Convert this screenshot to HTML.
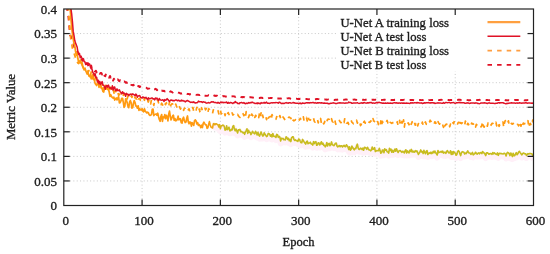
<!DOCTYPE html><html><head><meta charset="utf-8"><style>html,body{margin:0;padding:0;background:#fff;overflow:hidden}svg{display:block;will-change:transform}</style></head><body><svg width="550" height="254" viewBox="0 0 550 254">
<rect width="550" height="254" fill="#fff"/>
<g stroke="#c8c8c8" stroke-width="1" stroke-dasharray="1 2.353" fill="none"><line x1="63.3" y1="180.94" x2="533.5" y2="180.94"/><line x1="63.3" y1="156.38" x2="533.5" y2="156.38"/><line x1="63.3" y1="131.81" x2="533.5" y2="131.81"/><line x1="63.3" y1="107.25" x2="533.5" y2="107.25"/><line x1="63.3" y1="82.69" x2="533.5" y2="82.69"/><line x1="63.3" y1="58.12" x2="533.5" y2="58.12"/><line x1="63.3" y1="33.56" x2="533.5" y2="33.56"/><line x1="142.08" y1="205.7" x2="142.08" y2="9.0"/><line x1="220.37" y1="205.7" x2="220.37" y2="9.0"/><line x1="298.65" y1="205.7" x2="298.65" y2="9.0"/><line x1="376.93" y1="205.7" x2="376.93" y2="9.0"/><line x1="455.22" y1="205.7" x2="455.22" y2="9.0"/></g>
<linearGradient id="og" gradientUnits="userSpaceOnUse" x1="207" y1="0" x2="226" y2="0"><stop offset="0" stop-color="#ff9a10"/><stop offset="1" stop-color="#c8bc1e"/></linearGradient>
<clipPath id="c"><rect x="63.8" y="9.0" width="469.7" height="196.5"/></clipPath>
<g clip-path="url(#c)" fill="none" stroke-linejoin="round">
<path d="M214.10,123.54 L214.89,124.85 L215.67,123.71 L216.45,123.82 L217.24,124.45 L218.02,124.83 L218.80,126.94 L219.58,124.64 L220.37,128.77 L221.15,126.00 L221.93,125.76 L222.72,125.14 L223.50,125.23 L224.28,126.66 L225.06,130.13 L225.85,129.77 L226.63,125.80 L227.41,129.60 L228.19,128.66 L228.98,127.25 L229.76,130.75 L230.54,130.77 L231.33,129.25 L232.11,129.93 L232.89,126.38 L233.67,125.57 L234.46,129.35 L235.24,130.81 L236.02,128.95 L236.81,130.92 L237.59,132.96 L238.37,129.86 L239.15,129.99 L239.94,129.43 L240.72,131.80 L241.50,131.50 L242.29,132.08 L243.07,132.96 L243.85,132.36 L244.63,134.32 L245.42,131.92 L246.20,130.67 L246.98,128.83 L247.77,133.34 L248.55,130.34 L249.33,132.31 L250.11,132.31 L250.90,134.59 L251.68,133.42 L252.46,131.25 L253.25,132.51 L254.03,133.29 L254.81,133.86 L255.59,131.33 L256.38,132.77 L257.16,134.98 L257.94,132.35 L258.73,134.98 L259.51,136.14 L260.29,134.06 L261.07,131.95 L261.86,134.14 L262.64,135.97 L263.42,135.67 L264.21,132.80 L264.99,134.29 L265.77,135.41 L266.55,136.58 L267.34,136.09 L268.12,133.66 L268.90,133.51 L269.69,134.25 L270.47,136.24 L271.25,134.77 L272.03,136.88 L272.82,133.53 L273.60,136.29 L274.38,136.52 L275.17,136.25 L275.95,137.48 L276.73,134.38 L277.51,134.78 L278.30,137.37 L279.08,136.40 L279.86,137.13 L280.64,141.00 L281.43,138.32 L282.21,138.73 L282.99,138.41 L283.78,139.77 L284.56,139.57 L285.34,139.86 L286.12,136.74 L286.91,137.58 L287.69,139.34 L288.47,138.31 L289.26,140.70 L290.04,139.47 L290.82,141.58 L291.60,137.86 L292.39,136.90 L293.17,136.73 L293.95,139.46 L294.74,140.40 L295.52,139.94 L296.30,140.70 L297.08,140.81 L297.87,141.48 L298.65,139.09 L299.43,139.43 L300.22,141.27 L301.00,142.74 L301.78,142.79 L302.56,139.41 L303.35,140.58 L304.13,141.93 L304.91,143.03 L305.70,144.04 L306.48,141.91 L307.26,141.09 L308.04,143.72 L308.83,143.03 L309.61,143.04 L310.39,142.22 L311.18,144.03 L311.96,144.00 L312.74,145.06 L313.52,141.68 L314.31,143.56 L315.09,141.92 L315.87,141.68 L316.66,145.22 L317.44,145.03 L318.22,142.82 L319.00,143.07 L319.79,144.97 L320.57,143.37 L321.35,141.73 L322.13,144.15 L322.92,143.18 L323.70,145.34 L324.48,145.22 L325.27,146.82 L326.05,145.58 L326.83,142.56 L327.61,146.06 L328.40,143.83 L329.18,143.35 L329.96,145.66 L330.75,144.80 L331.53,141.90 L332.31,144.66 L333.09,145.02 L333.88,145.62 L334.66,144.74 L335.44,143.24 L336.23,143.13 L337.01,146.06 L337.79,146.81 L338.57,146.11 L339.36,145.52 L340.14,146.76 L340.92,145.74 L341.71,145.72 L342.49,147.01 L343.27,146.06 L344.05,145.31 L344.84,146.51 L345.62,146.65 L346.40,144.77 L347.19,145.92 L347.97,147.02 L348.75,149.45 L349.53,146.83 L350.32,150.19 L351.10,149.21 L351.88,146.08 L352.67,147.53 L353.45,148.78 L354.23,149.88 L355.01,148.45 L355.80,148.68 L356.58,145.91 L357.36,144.15 L358.15,148.02 L358.93,149.34 L359.71,149.37 L360.49,148.19 L361.28,148.51 L362.06,149.61 L362.84,148.18 L363.63,150.21 L364.41,147.35 L365.19,147.46 L365.97,148.08 L366.76,149.34 L367.54,147.29 L368.32,148.85 L369.11,150.03 L369.89,149.95 L370.67,150.79 L371.45,149.97 L372.24,147.08 L373.02,149.33 L373.80,148.92 L374.58,147.69 L375.37,151.52 L376.15,150.97 L376.93,150.51 L377.72,150.72 L378.50,150.78 L379.28,148.38 L380.06,150.48 L380.85,153.18 L381.63,152.68 L382.41,150.09 L383.20,150.12 L383.98,152.65 L384.76,148.79 L385.54,150.22 L386.33,149.69 L387.11,151.76 L387.89,151.98 L388.68,153.10 L389.46,148.39 L390.24,150.40 L391.02,149.16 L391.81,152.25 L392.59,150.32 L393.37,152.22 L394.16,150.97 L394.94,149.06 L395.72,151.24 L396.50,148.81 L397.29,150.79 L398.07,152.52 L398.85,150.97 L399.64,150.66 L400.42,150.61 L401.20,151.74 L401.98,152.36 L402.77,151.22 L403.55,152.06 L404.33,152.88 L405.12,150.81 L405.90,149.80 L406.68,153.02 L407.46,150.95 L408.25,152.14 L409.03,152.88 L409.81,150.34 L410.60,151.53 L411.38,149.38 L412.16,152.06 L412.94,151.11 L413.73,152.08 L414.51,152.12 L415.29,150.66 L416.07,151.60 L416.86,150.81 L417.64,152.53 L418.42,154.47 L419.21,153.11 L419.99,151.94 L420.77,149.94 L421.55,151.94 L422.34,151.51 L423.12,153.57 L423.90,150.40 L424.69,152.45 L425.47,153.71 L426.25,151.31 L427.03,150.63 L427.82,154.47 L428.60,153.46 L429.38,152.77 L430.17,153.51 L430.95,152.17 L431.73,153.59 L432.51,152.93 L433.30,151.27 L434.08,152.79 L434.86,151.02 L435.65,152.78 L436.43,153.83 L437.21,155.02 L437.99,150.45 L438.78,152.58 L439.56,152.33 L440.34,152.07 L441.13,151.31 L441.91,152.29 L442.69,151.06 L443.47,153.08 L444.26,152.54 L445.04,152.25 L445.82,153.36 L446.61,151.47 L447.39,150.64 L448.17,152.02 L448.95,153.04 L449.74,152.79 L450.52,150.86 L451.30,154.46 L452.09,151.82 L452.87,154.33 L453.65,151.45 L454.43,152.76 L455.22,153.06 L456.00,155.30 L456.78,154.69 L457.57,151.66 L458.35,150.67 L459.13,151.57 L459.91,153.85 L460.70,155.61 L461.48,152.64 L462.26,151.64 L463.05,151.89 L463.83,152.29 L464.61,154.00 L465.39,153.12 L466.18,153.59 L466.96,152.06 L467.74,150.85 L468.52,152.76 L469.31,153.03 L470.09,153.09 L470.87,154.45 L471.66,153.65 L472.44,152.45 L473.22,154.85 L474.00,154.16 L474.79,153.70 L475.57,152.25 L476.35,153.44 L477.14,154.10 L477.92,153.38 L478.70,152.85 L479.48,153.82 L480.27,152.83 L481.05,152.61 L481.83,153.53 L482.62,151.56 L483.40,152.74 L484.18,152.99 L484.96,154.05 L485.75,155.54 L486.53,152.71 L487.31,152.76 L488.10,153.34 L488.88,154.25 L489.66,153.81 L490.44,153.54 L491.23,153.68 L492.01,154.33 L492.79,152.56 L493.58,153.81 L494.36,152.86 L495.14,153.52 L495.92,154.31 L496.71,154.55 L497.49,152.92 L498.27,155.35 L499.06,153.62 L499.84,153.34 L500.62,153.58 L501.40,153.57 L502.19,153.81 L502.97,153.98 L503.75,153.49 L504.54,153.20 L505.32,153.96 L506.10,156.02 L506.88,153.24 L507.67,152.41 L508.45,152.87 L509.23,153.82 L510.01,155.57 L510.80,152.95 L511.58,154.64 L512.36,156.56 L513.15,153.19 L513.93,155.73 L514.71,155.59 L515.49,154.02 L516.28,152.59 L517.06,154.70 L517.84,153.78 L518.63,152.13 L519.41,151.29 L520.19,152.62 L520.97,153.69 L521.76,154.91 L522.54,153.87 L523.32,153.00 L524.11,153.34 L524.89,153.88 L525.67,153.74 L526.45,155.43 L527.24,154.40 L528.02,153.61 L528.80,153.97 L529.59,153.58 L530.37,153.44 L531.15,153.80 L531.93,153.72 L532.72,155.68 L533.50,156.16" stroke="#fff0f8" stroke-width="6" transform="translate(0,2.5)"/>
<path d="M63.80,-22.29 L64.58,-13.81 L65.37,-6.73 L66.15,-2.45 L66.93,7.33 L67.71,12.59 L68.50,17.67 L69.28,26.35 L70.06,35.30 L70.85,36.12 L71.63,40.92 L72.41,42.32 L73.19,42.85 L73.98,45.83 L74.76,48.76 L75.54,48.08 L76.33,49.49 L77.11,51.02 L77.89,52.54 L78.67,54.76 L79.46,57.38 L80.24,58.44 L81.02,58.40 L81.81,59.97 L82.59,60.87 L83.37,58.72 L84.15,61.40 L84.94,61.88 L85.72,62.63 L86.50,63.18 L87.28,64.25 L88.07,65.26 L88.85,66.93 L89.63,65.26 L90.42,66.99 L91.20,65.50 L91.98,69.46 L92.76,69.74 L93.55,68.68 L94.33,70.54 L95.11,71.56 L95.90,70.73 L96.68,72.39 L97.46,71.67 L98.24,74.32 L99.03,73.24 L99.81,73.86 L100.59,73.01 L101.38,72.88 L102.16,74.55 L102.94,72.37 L103.72,74.47 L104.51,75.88 L105.29,76.24 L106.07,73.34 L106.86,75.34 L107.64,76.42 L108.42,77.05 L109.20,77.74 L109.99,75.97 L110.77,77.56 L111.55,76.33 L112.34,78.50 L113.12,80.69 L113.90,78.63 L114.68,79.92 L115.47,79.93 L116.25,78.57 L117.03,80.21 L117.82,79.38 L118.60,80.57 L119.38,81.24 L120.16,80.18 L120.95,81.04 L121.73,79.94 L122.51,80.57 L123.30,81.58 L124.08,81.39 L124.86,81.70 L125.64,82.74 L126.43,82.20 L127.21,83.08 L127.99,82.41 L128.78,83.47 L129.56,83.02 L130.34,83.41 L131.12,84.83 L131.91,84.97 L132.69,85.35 L133.47,84.79 L134.25,85.94 L135.04,85.31 L135.82,84.66 L136.60,85.47 L137.39,86.94 L138.17,86.23 L138.95,86.02 L139.73,87.11 L140.52,86.51 L141.30,86.98 L142.08,87.22 L142.87,87.64 L143.65,87.72 L144.43,87.56 L145.21,87.55 L146.00,87.60 L146.78,88.01 L147.56,88.68 L148.35,88.63 L149.13,88.53 L149.91,89.63 L150.69,89.26 L151.48,89.31 L152.26,88.99 L153.04,88.94 L153.83,88.94 L154.61,89.36 L155.39,88.80 L156.17,89.17 L156.96,90.24 L157.74,89.65 L158.52,90.23 L159.31,89.06 L160.09,90.13 L160.87,90.34 L161.65,90.45 L162.44,90.86 L163.22,91.06 L164.00,90.67 L164.79,91.44 L165.57,91.41 L166.35,91.38 L167.13,92.07 L167.92,90.93 L168.70,91.12 L169.48,90.95 L170.27,91.70 L171.05,91.45 L171.83,91.96 L172.61,92.59 L173.40,91.94 L174.18,92.55 L174.96,92.80 L175.75,92.64 L176.53,92.41 L177.31,92.37 L178.09,92.65 L178.88,92.68 L179.66,92.84 L180.44,93.66 L181.22,93.48 L182.01,93.54 L182.79,93.25 L183.57,92.97 L184.36,93.29 L185.14,93.85 L185.92,93.77 L186.70,93.55 L187.49,94.04 L188.27,94.05 L189.05,94.05 L189.84,94.61 L190.62,94.01 L191.40,94.15 L192.18,94.18 L192.97,94.62 L193.75,94.64 L194.53,94.68 L195.32,94.58 L196.10,94.76 L196.88,94.89 L197.66,94.62 L198.45,94.73 L199.23,95.12 L200.01,95.07 L200.80,94.60 L201.58,95.21 L202.36,95.03 L203.14,95.15 L203.93,95.75 L204.71,95.78 L205.49,95.73 L206.28,95.87 L207.06,95.81 L207.84,95.58 L208.62,95.22 L209.41,95.47 L210.19,95.44 L210.97,95.51 L211.76,95.73 L212.54,95.19 L213.32,95.99 L214.10,95.70 L214.89,95.52 L215.67,96.01 L216.45,95.71 L217.24,95.69 L218.02,96.20 L218.80,96.09 L219.58,96.45 L220.37,96.20 L221.15,96.32 L221.93,96.29 L222.72,96.04 L223.50,96.23 L224.28,96.14 L225.06,96.35 L225.85,96.71 L226.63,96.38 L227.41,96.23 L228.19,96.51 L228.98,95.99 L229.76,96.28 L230.54,96.29 L231.33,96.55 L232.11,96.37 L232.89,96.31 L233.67,96.41 L234.46,96.38 L235.24,96.91 L236.02,96.45 L236.81,97.01 L237.59,97.29 L238.37,97.11 L239.15,97.09 L239.94,96.87 L240.72,97.17 L241.50,97.03 L242.29,97.31 L243.07,96.87 L243.85,97.23 L244.63,97.09 L245.42,97.67 L246.20,97.42 L246.98,97.60 L247.77,97.20 L248.55,97.04 L249.33,97.30 L250.11,97.21 L250.90,97.27 L251.68,97.43 L252.46,97.42 L253.25,97.57 L254.03,97.76 L254.81,97.64 L255.59,97.67 L256.38,98.06 L257.16,98.04 L257.94,97.99 L258.73,98.01 L259.51,98.03 L260.29,97.76 L261.07,97.72 L261.86,97.77 L262.64,97.98 L263.42,97.82 L264.21,98.08 L264.99,98.56 L265.77,98.59 L266.55,98.36 L267.34,98.50 L268.12,98.18 L268.90,98.12 L269.69,98.12 L270.47,97.96 L271.25,98.04 L272.03,97.84 L272.82,98.04 L273.60,97.62 L274.38,97.89 L275.17,98.13 L275.95,98.45 L276.73,98.48 L277.51,98.45 L278.30,98.43 L279.08,98.38 L279.86,98.59 L280.64,98.47 L281.43,98.67 L282.21,98.80 L282.99,98.86 L283.78,98.77 L284.56,98.79 L285.34,99.05 L286.12,98.55 L286.91,98.35 L287.69,98.36 L288.47,98.28 L289.26,98.32 L290.04,98.40 L290.82,98.78 L291.60,99.06 L292.39,99.00 L293.17,99.21 L293.95,98.84 L294.74,98.59 L295.52,98.62 L296.30,98.66 L297.08,98.86 L297.87,98.95 L298.65,98.98 L299.43,98.95 L300.22,98.79 L301.00,98.77 L301.78,98.73 L302.56,98.84 L303.35,99.08 L304.13,99.24 L304.91,99.22 L305.70,99.13 L306.48,98.97 L307.26,99.11 L308.04,99.23 L308.83,99.37 L309.61,99.23 L310.39,99.28 L311.18,99.31 L311.96,99.32 L312.74,99.24 L313.52,99.47 L314.31,99.28 L315.09,99.24 L315.87,99.22 L316.66,99.00 L317.44,99.03 L318.22,99.11 L319.00,99.11 L319.79,99.21 L320.57,99.11 L321.35,99.18 L322.13,99.16 L322.92,99.18 L323.70,99.51 L324.48,99.35 L325.27,99.63 L326.05,99.53 L326.83,99.70 L327.61,99.66 L328.40,99.54 L329.18,99.82 L329.96,99.63 L330.75,99.65 L331.53,99.85 L332.31,99.69 L333.09,99.83 L333.88,99.93 L334.66,99.94 L335.44,99.61 L336.23,99.75 L337.01,99.76 L337.79,99.56 L338.57,99.44 L339.36,99.45 L340.14,99.51 L340.92,99.73 L341.71,99.70 L342.49,99.84 L343.27,99.89 L344.05,99.78 L344.84,99.67 L345.62,99.52 L346.40,99.55 L347.19,99.65 L347.97,99.63 L348.75,99.56 L349.53,99.36 L350.32,99.65 L351.10,99.66 L351.88,99.69 L352.67,99.77 L353.45,99.58 L354.23,99.55 L355.01,99.68 L355.80,99.74 L356.58,99.84 L357.36,99.88 L358.15,99.96 L358.93,99.82 L359.71,99.53 L360.49,99.72 L361.28,99.58 L362.06,99.57 L362.84,99.73 L363.63,99.77 L364.41,99.86 L365.19,99.80 L365.97,99.68 L366.76,99.74 L367.54,99.70 L368.32,99.79 L369.11,99.93 L369.89,99.95 L370.67,100.04 L371.45,99.84 L372.24,99.73 L373.02,99.70 L373.80,99.72 L374.58,99.87 L375.37,99.65 L376.15,99.89 L376.93,99.97 L377.72,99.95 L378.50,100.25 L379.28,100.08 L380.06,100.05 L380.85,100.00 L381.63,99.98 L382.41,99.83 L383.20,99.87 L383.98,99.75 L384.76,99.76 L385.54,100.01 L386.33,100.00 L387.11,100.03 L387.89,100.13 L388.68,100.12 L389.46,99.98 L390.24,99.94 L391.02,100.02 L391.81,99.94 L392.59,99.87 L393.37,100.02 L394.16,100.00 L394.94,99.78 L395.72,99.77 L396.50,99.97 L397.29,99.95 L398.07,99.87 L398.85,100.08 L399.64,100.07 L400.42,100.06 L401.20,99.89 L401.98,100.01 L402.77,99.97 L403.55,99.92 L404.33,99.80 L405.12,99.94 L405.90,100.12 L406.68,99.99 L407.46,99.97 L408.25,100.03 L409.03,100.04 L409.81,99.99 L410.60,99.92 L411.38,99.99 L412.16,99.96 L412.94,100.03 L413.73,100.15 L414.51,100.30 L415.29,100.29 L416.07,100.35 L416.86,100.31 L417.64,100.15 L418.42,100.10 L419.21,100.02 L419.99,100.19 L420.77,100.03 L421.55,100.09 L422.34,100.05 L423.12,99.97 L423.90,99.78 L424.69,99.89 L425.47,100.16 L426.25,100.32 L427.03,100.28 L427.82,100.27 L428.60,100.02 L429.38,100.15 L430.17,100.14 L430.95,100.01 L431.73,100.02 L432.51,100.05 L433.30,100.03 L434.08,99.95 L434.86,100.15 L435.65,100.20 L436.43,100.31 L437.21,100.18 L437.99,100.10 L438.78,100.10 L439.56,99.92 L440.34,99.93 L441.13,99.80 L441.91,99.90 L442.69,100.01 L443.47,100.01 L444.26,100.11 L445.04,100.14 L445.82,100.00 L446.61,99.95 L447.39,99.86 L448.17,99.99 L448.95,100.03 L449.74,100.13 L450.52,99.99 L451.30,100.01 L452.09,100.05 L452.87,99.93 L453.65,99.93 L454.43,100.10 L455.22,99.96 L456.00,99.99 L456.78,99.99 L457.57,99.95 L458.35,99.76 L459.13,99.76 L459.91,99.75 L460.70,99.94 L461.48,99.89 L462.26,99.78 L463.05,99.91 L463.83,99.90 L464.61,100.01 L465.39,99.83 L466.18,99.94 L466.96,100.05 L467.74,100.15 L468.52,100.23 L469.31,100.24 L470.09,100.13 L470.87,100.14 L471.66,99.96 L472.44,100.04 L473.22,100.06 L474.00,99.94 L474.79,100.05 L475.57,100.02 L476.35,100.07 L477.14,100.11 L477.92,99.87 L478.70,99.93 L479.48,99.81 L480.27,100.07 L481.05,100.17 L481.83,100.08 L482.62,100.05 L483.40,100.00 L484.18,100.02 L484.96,99.86 L485.75,99.98 L486.53,99.94 L487.31,100.03 L488.10,100.11 L488.88,100.11 L489.66,100.22 L490.44,100.14 L491.23,100.12 L492.01,100.27 L492.79,100.25 L493.58,100.19 L494.36,100.14 L495.14,100.01 L495.92,100.08 L496.71,99.91 L497.49,99.93 L498.27,100.00 L499.06,100.09 L499.84,100.05 L500.62,100.13 L501.40,100.10 L502.19,100.13 L502.97,100.06 L503.75,100.08 L504.54,99.96 L505.32,100.19 L506.10,100.18 L506.88,100.16 L507.67,100.33 L508.45,100.22 L509.23,100.28 L510.01,100.12 L510.80,100.10 L511.58,100.06 L512.36,100.07 L513.15,100.15 L513.93,100.19 L514.71,100.03 L515.49,100.07 L516.28,100.06 L517.06,99.96 L517.84,99.98 L518.63,99.96 L519.41,99.92 L520.19,100.04 L520.97,99.93 L521.76,99.98 L522.54,100.13 L523.32,100.21 L524.11,100.37 L524.89,100.27 L525.67,100.08 L526.45,100.20 L527.24,100.10 L528.02,100.05 L528.80,100.03 L529.59,99.98 L530.37,100.15 L531.15,100.04 L531.93,100.00 L532.72,100.12 L533.50,100.08" stroke="#e01226" stroke-width="1.9" stroke-dasharray="4.5 5.1"/>
<path d="M63.80,-22.35 L64.58,-14.78 L65.37,-9.75 L66.15,-4.19 L66.93,0.80 L67.71,4.82 L68.50,11.82 L69.28,22.91 L70.06,31.90 L70.85,40.04 L71.63,42.39 L72.41,48.95 L73.19,50.29 L73.98,53.03 L74.76,55.57 L75.54,58.07 L76.33,57.93 L77.11,61.74 L77.89,63.11 L78.67,63.62 L79.46,62.53 L80.24,64.33 L81.02,62.28 L81.81,64.38 L82.59,66.31 L83.37,67.98 L84.15,68.50 L84.94,68.48 L85.72,68.99 L86.50,70.32 L87.28,70.12 L88.07,71.93 L88.85,70.53 L89.63,72.77 L90.42,76.33 L91.20,71.83 L91.98,75.22 L92.76,78.88 L93.55,78.62 L94.33,80.35 L95.11,75.90 L95.90,78.68 L96.68,82.61 L97.46,80.29 L98.24,82.79 L99.03,79.84 L99.81,84.84 L100.59,86.85 L101.38,83.69 L102.16,85.22 L102.94,86.47 L103.72,90.08 L104.51,86.34 L105.29,84.33 L106.07,90.10 L106.86,85.87 L107.64,89.47 L108.42,85.74 L109.20,88.61 L109.99,89.39 L110.77,87.23 L111.55,88.40 L112.34,90.83 L113.12,89.65 L113.90,92.52 L114.68,95.36 L115.47,89.96 L116.25,94.01 L117.03,94.31 L117.82,92.44 L118.60,95.14 L119.38,94.83 L120.16,93.80 L120.95,94.34 L121.73,93.93 L122.51,92.61 L123.30,95.26 L124.08,93.91 L124.86,94.20 L125.64,97.71 L126.43,96.55 L127.21,98.90 L127.99,95.69 L128.78,96.16 L129.56,96.36 L130.34,98.23 L131.12,95.90 L131.91,97.44 L132.69,95.51 L133.47,97.39 L134.25,99.20 L135.04,97.16 L135.82,97.79 L136.60,99.81 L137.39,96.83 L138.17,98.86 L138.95,98.79 L139.73,98.39 L140.52,100.38 L141.30,100.55 L142.08,100.61 L142.87,98.07 L143.65,97.84 L144.43,100.27 L145.21,97.20 L146.00,100.16 L146.78,100.29 L147.56,100.43 L148.35,102.04 L149.13,99.24 L149.91,102.09 L150.69,103.88 L151.48,99.55 L152.26,102.09 L153.04,102.03 L153.83,105.34 L154.61,100.67 L155.39,101.24 L156.17,101.53 L156.96,101.35 L157.74,100.13 L158.52,102.80 L159.31,101.43 L160.09,104.64 L160.87,104.86 L161.65,103.26 L162.44,104.38 L163.22,106.73 L164.00,103.44 L164.79,103.73 L165.57,104.55 L166.35,102.74 L167.13,104.46 L167.92,106.79 L168.70,106.46 L169.48,102.09 L170.27,107.30 L171.05,104.58 L171.83,103.95 L172.61,103.88 L173.40,106.87 L174.18,105.62 L174.96,105.05 L175.75,104.09 L176.53,106.50 L177.31,107.61 L178.09,104.73 L178.88,105.29 L179.66,107.14 L180.44,109.05 L181.22,107.58 L182.01,108.17 L182.79,107.13 L183.57,110.40 L184.36,108.18 L185.14,108.49 L185.92,109.85 L186.70,107.92 L187.49,108.64 L188.27,109.81 L189.05,108.84 L189.84,111.63 L190.62,109.04 L191.40,107.87 L192.18,108.17 L192.97,107.47 L193.75,111.76 L194.53,112.82 L195.32,110.40 L196.10,110.09 L196.88,107.31 L197.66,109.42 L198.45,111.55 L199.23,108.99 L200.01,112.03 L200.80,113.52 L201.58,107.82 L202.36,110.50 L203.14,109.46 L203.93,109.39 L204.71,107.39 L205.49,109.86 L206.28,108.47 L207.06,112.09 L207.84,112.89 L208.62,108.86 L209.41,109.34 L210.19,111.39 L210.97,112.15 L211.76,112.32 L212.54,113.52 L213.32,109.77 L214.10,110.94 L214.89,111.15 L215.67,111.42 L216.45,110.35 L217.24,111.08 L218.02,110.67 L218.80,113.89 L219.58,111.69 L220.37,109.52 L221.15,113.92 L221.93,113.10 L222.72,111.29 L223.50,111.21 L224.28,111.93 L225.06,115.57 L225.85,112.21 L226.63,114.75 L227.41,114.30 L228.19,112.58 L228.98,114.51 L229.76,113.32 L230.54,111.37 L231.33,113.38 L232.11,112.92 L232.89,115.03 L233.67,114.55 L234.46,115.50 L235.24,115.08 L236.02,116.14 L236.81,115.31 L237.59,114.38 L238.37,115.70 L239.15,116.83 L239.94,117.39 L240.72,115.02 L241.50,115.73 L242.29,113.99 L243.07,113.69 L243.85,115.67 L244.63,113.95 L245.42,117.26 L246.20,111.64 L246.98,113.42 L247.77,115.90 L248.55,117.55 L249.33,114.95 L250.11,118.19 L250.90,116.36 L251.68,114.04 L252.46,115.32 L253.25,116.46 L254.03,114.33 L254.81,117.42 L255.59,115.29 L256.38,116.54 L257.16,117.14 L257.94,115.17 L258.73,117.58 L259.51,113.10 L260.29,116.97 L261.07,112.85 L261.86,117.71 L262.64,115.18 L263.42,118.34 L264.21,119.01 L264.99,117.03 L265.77,116.43 L266.55,119.58 L267.34,115.71 L268.12,118.75 L268.90,117.24 L269.69,116.82 L270.47,116.36 L271.25,119.99 L272.03,114.53 L272.82,116.11 L273.60,117.66 L274.38,118.69 L275.17,119.81 L275.95,119.37 L276.73,116.52 L277.51,118.09 L278.30,119.56 L279.08,118.83 L279.86,115.53 L280.64,118.30 L281.43,118.55 L282.21,115.47 L282.99,116.99 L283.78,117.95 L284.56,119.29 L285.34,120.96 L286.12,120.43 L286.91,119.30 L287.69,118.67 L288.47,117.48 L289.26,117.05 L290.04,117.69 L290.82,118.05 L291.60,120.42 L292.39,122.56 L293.17,120.15 L293.95,120.88 L294.74,120.39 L295.52,119.63 L296.30,120.87 L297.08,120.39 L297.87,118.76 L298.65,118.60 L299.43,120.04 L300.22,118.36 L301.00,119.51 L301.78,120.85 L302.56,119.41 L303.35,116.79 L304.13,121.01 L304.91,118.18 L305.70,117.81 L306.48,117.50 L307.26,120.98 L308.04,116.37 L308.83,119.29 L309.61,119.96 L310.39,120.10 L311.18,118.98 L311.96,119.97 L312.74,120.34 L313.52,118.05 L314.31,121.34 L315.09,122.10 L315.87,119.46 L316.66,119.76 L317.44,119.27 L318.22,122.84 L319.00,119.62 L319.79,120.59 L320.57,118.46 L321.35,122.98 L322.13,120.60 L322.92,121.56 L323.70,123.83 L324.48,122.47 L325.27,119.36 L326.05,121.57 L326.83,121.75 L327.61,119.25 L328.40,119.20 L329.18,119.25 L329.96,121.91 L330.75,120.54 L331.53,118.71 L332.31,121.53 L333.09,122.00 L333.88,119.80 L334.66,118.82 L335.44,123.21 L336.23,124.99 L337.01,123.85 L337.79,123.11 L338.57,121.67 L339.36,120.45 L340.14,121.71 L340.92,122.71 L341.71,121.49 L342.49,123.19 L343.27,121.61 L344.05,122.51 L344.84,118.09 L345.62,120.33 L346.40,122.94 L347.19,123.18 L347.97,122.33 L348.75,124.32 L349.53,122.99 L350.32,122.94 L351.10,120.21 L351.88,122.21 L352.67,122.90 L353.45,123.79 L354.23,123.46 L355.01,121.77 L355.80,122.16 L356.58,120.22 L357.36,123.14 L358.15,120.55 L358.93,121.82 L359.71,122.30 L360.49,125.55 L361.28,124.42 L362.06,121.19 L362.84,120.19 L363.63,122.10 L364.41,121.25 L365.19,123.11 L365.97,123.02 L366.76,123.33 L367.54,120.56 L368.32,121.39 L369.11,122.23 L369.89,122.38 L370.67,120.98 L371.45,121.23 L372.24,122.84 L373.02,118.67 L373.80,120.99 L374.58,121.59 L375.37,119.54 L376.15,120.47 L376.93,122.39 L377.72,121.66 L378.50,124.55 L379.28,124.15 L380.06,126.57 L380.85,120.91 L381.63,125.52 L382.41,121.33 L383.20,123.77 L383.98,124.09 L384.76,122.87 L385.54,122.19 L386.33,121.86 L387.11,120.39 L387.89,122.99 L388.68,122.44 L389.46,124.75 L390.24,122.39 L391.02,122.83 L391.81,123.42 L392.59,122.69 L393.37,122.69 L394.16,122.42 L394.94,122.15 L395.72,123.59 L396.50,123.98 L397.29,121.72 L398.07,125.66 L398.85,124.00 L399.64,120.45 L400.42,126.10 L401.20,123.57 L401.98,121.50 L402.77,125.55 L403.55,119.94 L404.33,127.20 L405.12,121.64 L405.90,121.37 L406.68,122.19 L407.46,123.81 L408.25,122.81 L409.03,124.75 L409.81,122.14 L410.60,125.28 L411.38,123.92 L412.16,121.74 L412.94,124.82 L413.73,123.44 L414.51,122.58 L415.29,125.14 L416.07,121.48 L416.86,122.94 L417.64,125.90 L418.42,123.51 L419.21,124.45 L419.99,124.08 L420.77,122.94 L421.55,124.42 L422.34,122.16 L423.12,125.00 L423.90,122.22 L424.69,123.51 L425.47,121.92 L426.25,124.21 L427.03,124.39 L427.82,125.59 L428.60,122.90 L429.38,122.24 L430.17,120.25 L430.95,121.47 L431.73,123.18 L432.51,124.14 L433.30,123.47 L434.08,124.26 L434.86,121.85 L435.65,122.50 L436.43,125.17 L437.21,124.88 L437.99,121.60 L438.78,123.21 L439.56,124.09 L440.34,121.98 L441.13,124.60 L441.91,124.57 L442.69,124.96 L443.47,127.34 L444.26,122.78 L445.04,125.78 L445.82,124.45 L446.61,124.52 L447.39,122.29 L448.17,123.85 L448.95,124.01 L449.74,126.76 L450.52,124.10 L451.30,126.00 L452.09,122.97 L452.87,122.86 L453.65,123.61 L454.43,120.51 L455.22,122.96 L456.00,122.82 L456.78,123.45 L457.57,123.96 L458.35,122.24 L459.13,122.24 L459.91,126.20 L460.70,122.60 L461.48,123.53 L462.26,122.80 L463.05,123.41 L463.83,125.92 L464.61,125.74 L465.39,121.01 L466.18,123.52 L466.96,126.15 L467.74,123.27 L468.52,124.30 L469.31,126.59 L470.09,127.05 L470.87,125.98 L471.66,123.03 L472.44,123.69 L473.22,124.22 L474.00,123.53 L474.79,122.98 L475.57,127.13 L476.35,124.35 L477.14,125.31 L477.92,126.08 L478.70,125.11 L479.48,124.54 L480.27,124.88 L481.05,126.85 L481.83,125.37 L482.62,121.41 L483.40,126.16 L484.18,127.09 L484.96,123.98 L485.75,123.49 L486.53,123.72 L487.31,126.24 L488.10,122.97 L488.88,125.85 L489.66,126.52 L490.44,125.73 L491.23,124.84 L492.01,123.32 L492.79,123.28 L493.58,124.18 L494.36,122.54 L495.14,123.69 L495.92,122.23 L496.71,125.85 L497.49,126.33 L498.27,122.88 L499.06,126.42 L499.84,124.68 L500.62,124.30 L501.40,124.92 L502.19,124.91 L502.97,121.99 L503.75,127.57 L504.54,122.67 L505.32,120.60 L506.10,124.06 L506.88,124.10 L507.67,122.79 L508.45,120.88 L509.23,125.48 L510.01,123.51 L510.80,124.18 L511.58,123.29 L512.36,124.10 L513.15,123.33 L513.93,125.00 L514.71,124.27 L515.49,125.48 L516.28,125.47 L517.06,124.49 L517.84,124.33 L518.63,125.86 L519.41,121.57 L520.19,124.29 L520.97,126.18 L521.76,122.17 L522.54,125.05 L523.32,123.09 L524.11,123.92 L524.89,123.51 L525.67,123.62 L526.45,124.77 L527.24,123.81 L528.02,120.74 L528.80,127.51 L529.59,124.08 L530.37,123.50 L531.15,125.63 L531.93,125.79 L532.72,120.00 L533.50,124.03" stroke="#ff9a10" stroke-width="1.7" stroke-dasharray="4.5 5.1"/>
<path d="M63.80,-25.50 L64.58,-21.31 L65.37,-16.07 L66.15,-11.81 L66.93,-7.99 L67.71,-2.49 L68.50,-1.00 L69.28,-0.16 L70.06,7.43 L70.85,18.17 L71.63,26.64 L72.41,33.72 L73.19,38.97 L73.98,43.61 L74.76,45.83 L75.54,51.27 L76.33,55.48 L77.11,52.83 L77.89,58.77 L78.67,62.01 L79.46,62.30 L80.24,60.15 L81.02,63.36 L81.81,62.07 L82.59,65.27 L83.37,68.07 L84.15,69.88 L84.94,68.07 L85.72,70.58 L86.50,72.52 L87.28,74.10 L88.07,72.34 L88.85,75.82 L89.63,76.60 L90.42,74.96 L91.20,78.90 L91.98,76.72 L92.76,74.69 L93.55,77.55 L94.33,79.99 L95.11,83.40 L95.90,84.48 L96.68,85.59 L97.46,83.09 L98.24,81.73 L99.03,87.40 L99.81,83.48 L100.59,84.01 L101.38,88.39 L102.16,88.50 L102.94,91.61 L103.72,92.03 L104.51,87.51 L105.29,87.66 L106.07,88.88 L106.86,86.80 L107.64,88.04 L108.42,89.35 L109.20,92.02 L109.99,96.45 L110.77,94.78 L111.55,96.59 L112.34,97.47 L113.12,98.01 L113.90,97.10 L114.68,100.09 L115.47,99.08 L116.25,97.93 L117.03,99.92 L117.82,97.95 L118.60,96.67 L119.38,102.81 L120.16,102.59 L120.95,100.95 L121.73,98.27 L122.51,98.26 L123.30,102.21 L124.08,107.39 L124.86,106.01 L125.64,98.79 L126.43,100.22 L127.21,102.81 L127.99,106.31 L128.78,107.72 L129.56,102.07 L130.34,100.51 L131.12,102.67 L131.91,108.04 L132.69,107.48 L133.47,103.19 L134.25,100.58 L135.04,102.48 L135.82,105.96 L136.60,106.09 L137.39,108.20 L138.17,105.89 L138.95,110.46 L139.73,108.73 L140.52,109.77 L141.30,110.09 L142.08,108.64 L142.87,111.04 L143.65,111.76 L144.43,108.87 L145.21,111.24 L146.00,111.90 L146.78,112.97 L147.56,112.15 L148.35,112.66 L149.13,114.69 L149.91,115.31 L150.69,115.10 L151.48,114.53 L152.26,109.41 L153.04,109.17 L153.83,115.57 L154.61,114.54 L155.39,114.29 L156.17,113.96 L156.96,115.18 L157.74,113.21 L158.52,116.63 L159.31,119.47 L160.09,121.25 L160.87,116.58 L161.65,114.58 L162.44,121.41 L163.22,116.97 L164.00,117.70 L164.79,114.60 L165.57,118.76 L166.35,115.31 L167.13,116.70 L167.92,120.91 L168.70,114.13 L169.48,111.14 L170.27,116.36 L171.05,119.98 L171.83,118.08 L172.61,115.95 L173.40,115.21 L174.18,120.32 L174.96,118.51 L175.75,120.79 L176.53,120.44 L177.31,119.28 L178.09,116.09 L178.88,119.88 L179.66,118.73 L180.44,118.77 L181.22,122.63 L182.01,123.01 L182.79,118.79 L183.57,117.17 L184.36,120.74 L185.14,122.53 L185.92,121.95 L186.70,118.59 L187.49,115.95 L188.27,121.95 L189.05,123.77 L189.84,122.00 L190.62,122.34 L191.40,126.10 L192.18,122.73 L192.97,123.67 L193.75,125.44 L194.53,120.54 L195.32,119.90 L196.10,120.96 L196.88,123.95 L197.66,122.69 L198.45,125.43 L199.23,124.70 L200.01,125.66 L200.80,127.59 L201.58,125.21 L202.36,127.53 L203.14,123.73 L203.93,122.19 L204.71,123.78" stroke="#ff9a10" stroke-width="1.7"/>
<path d="M204.71,123.78 L205.49,124.83 L206.28,124.85 L207.06,128.39 L207.84,127.92 L208.62,124.50 L209.41,121.64 L210.19,125.01 L210.97,127.03 L211.76,127.58 L212.54,128.00 L213.32,123.96 L214.10,123.54 L214.89,124.85 L215.67,123.71 L216.45,123.82 L217.24,124.45 L218.02,124.83 L218.80,126.94 L219.58,124.64 L220.37,128.77 L221.15,126.00 L221.93,125.76 L222.72,125.14 L223.50,125.23 L224.28,126.66 L225.06,130.13 L225.85,129.77 L226.63,125.80 L227.41,129.60 L228.19,128.66 L228.98,127.25 L229.76,130.75 L230.54,130.77 L231.33,129.25 L232.11,129.93 L232.89,126.38 L233.67,125.57 L234.46,129.35 L235.24,130.81 L236.02,128.95 L236.81,130.92 L237.59,132.96 L238.37,129.86 L239.15,129.99 L239.94,129.43 L240.72,131.80 L241.50,131.50 L242.29,132.08 L243.07,132.96 L243.85,132.36 L244.63,134.32 L245.42,131.92 L246.20,130.67 L246.98,128.83 L247.77,133.34 L248.55,130.34 L249.33,132.31 L250.11,132.31 L250.90,134.59 L251.68,133.42 L252.46,131.25 L253.25,132.51 L254.03,133.29 L254.81,133.86 L255.59,131.33 L256.38,132.77 L257.16,134.98 L257.94,132.35 L258.73,134.98 L259.51,136.14 L260.29,134.06 L261.07,131.95 L261.86,134.14 L262.64,135.97 L263.42,135.67 L264.21,132.80 L264.99,134.29 L265.77,135.41 L266.55,136.58 L267.34,136.09 L268.12,133.66 L268.90,133.51 L269.69,134.25 L270.47,136.24 L271.25,134.77 L272.03,136.88 L272.82,133.53 L273.60,136.29 L274.38,136.52 L275.17,136.25 L275.95,137.48 L276.73,134.38 L277.51,134.78 L278.30,137.37 L279.08,136.40 L279.86,137.13 L280.64,141.00 L281.43,138.32 L282.21,138.73 L282.99,138.41 L283.78,139.77 L284.56,139.57 L285.34,139.86 L286.12,136.74 L286.91,137.58 L287.69,139.34 L288.47,138.31 L289.26,140.70 L290.04,139.47 L290.82,141.58 L291.60,137.86 L292.39,136.90 L293.17,136.73 L293.95,139.46 L294.74,140.40 L295.52,139.94 L296.30,140.70 L297.08,140.81 L297.87,141.48 L298.65,139.09 L299.43,139.43 L300.22,141.27 L301.00,142.74 L301.78,142.79 L302.56,139.41 L303.35,140.58 L304.13,141.93 L304.91,143.03 L305.70,144.04 L306.48,141.91 L307.26,141.09 L308.04,143.72 L308.83,143.03 L309.61,143.04 L310.39,142.22 L311.18,144.03 L311.96,144.00 L312.74,145.06 L313.52,141.68 L314.31,143.56 L315.09,141.92 L315.87,141.68 L316.66,145.22 L317.44,145.03 L318.22,142.82 L319.00,143.07 L319.79,144.97 L320.57,143.37 L321.35,141.73 L322.13,144.15 L322.92,143.18 L323.70,145.34 L324.48,145.22 L325.27,146.82 L326.05,145.58 L326.83,142.56 L327.61,146.06 L328.40,143.83 L329.18,143.35 L329.96,145.66 L330.75,144.80 L331.53,141.90 L332.31,144.66 L333.09,145.02 L333.88,145.62 L334.66,144.74 L335.44,143.24 L336.23,143.13 L337.01,146.06 L337.79,146.81 L338.57,146.11 L339.36,145.52 L340.14,146.76 L340.92,145.74 L341.71,145.72 L342.49,147.01 L343.27,146.06 L344.05,145.31 L344.84,146.51 L345.62,146.65 L346.40,144.77 L347.19,145.92 L347.97,147.02 L348.75,149.45 L349.53,146.83 L350.32,150.19 L351.10,149.21 L351.88,146.08 L352.67,147.53 L353.45,148.78 L354.23,149.88 L355.01,148.45 L355.80,148.68 L356.58,145.91 L357.36,144.15 L358.15,148.02 L358.93,149.34 L359.71,149.37 L360.49,148.19 L361.28,148.51 L362.06,149.61 L362.84,148.18 L363.63,150.21 L364.41,147.35 L365.19,147.46 L365.97,148.08 L366.76,149.34 L367.54,147.29 L368.32,148.85 L369.11,150.03 L369.89,149.95 L370.67,150.79 L371.45,149.97 L372.24,147.08 L373.02,149.33 L373.80,148.92 L374.58,147.69 L375.37,151.52 L376.15,150.97 L376.93,150.51 L377.72,150.72 L378.50,150.78 L379.28,148.38 L380.06,150.48 L380.85,153.18 L381.63,152.68 L382.41,150.09 L383.20,150.12 L383.98,152.65 L384.76,148.79 L385.54,150.22 L386.33,149.69 L387.11,151.76 L387.89,151.98 L388.68,153.10 L389.46,148.39 L390.24,150.40 L391.02,149.16 L391.81,152.25 L392.59,150.32 L393.37,152.22 L394.16,150.97 L394.94,149.06 L395.72,151.24 L396.50,148.81 L397.29,150.79 L398.07,152.52 L398.85,150.97 L399.64,150.66 L400.42,150.61 L401.20,151.74 L401.98,152.36 L402.77,151.22 L403.55,152.06 L404.33,152.88 L405.12,150.81 L405.90,149.80 L406.68,153.02 L407.46,150.95 L408.25,152.14 L409.03,152.88 L409.81,150.34 L410.60,151.53 L411.38,149.38 L412.16,152.06 L412.94,151.11 L413.73,152.08 L414.51,152.12 L415.29,150.66 L416.07,151.60 L416.86,150.81 L417.64,152.53 L418.42,154.47 L419.21,153.11 L419.99,151.94 L420.77,149.94 L421.55,151.94 L422.34,151.51 L423.12,153.57 L423.90,150.40 L424.69,152.45 L425.47,153.71 L426.25,151.31 L427.03,150.63 L427.82,154.47 L428.60,153.46 L429.38,152.77 L430.17,153.51 L430.95,152.17 L431.73,153.59 L432.51,152.93 L433.30,151.27 L434.08,152.79 L434.86,151.02 L435.65,152.78 L436.43,153.83 L437.21,155.02 L437.99,150.45 L438.78,152.58 L439.56,152.33 L440.34,152.07 L441.13,151.31 L441.91,152.29 L442.69,151.06 L443.47,153.08 L444.26,152.54 L445.04,152.25 L445.82,153.36 L446.61,151.47 L447.39,150.64 L448.17,152.02 L448.95,153.04 L449.74,152.79 L450.52,150.86 L451.30,154.46 L452.09,151.82 L452.87,154.33 L453.65,151.45 L454.43,152.76 L455.22,153.06 L456.00,155.30 L456.78,154.69 L457.57,151.66 L458.35,150.67 L459.13,151.57 L459.91,153.85 L460.70,155.61 L461.48,152.64 L462.26,151.64 L463.05,151.89 L463.83,152.29 L464.61,154.00 L465.39,153.12 L466.18,153.59 L466.96,152.06 L467.74,150.85 L468.52,152.76 L469.31,153.03 L470.09,153.09 L470.87,154.45 L471.66,153.65 L472.44,152.45 L473.22,154.85 L474.00,154.16 L474.79,153.70 L475.57,152.25 L476.35,153.44 L477.14,154.10 L477.92,153.38 L478.70,152.85 L479.48,153.82 L480.27,152.83 L481.05,152.61 L481.83,153.53 L482.62,151.56 L483.40,152.74 L484.18,152.99 L484.96,154.05 L485.75,155.54 L486.53,152.71 L487.31,152.76 L488.10,153.34 L488.88,154.25 L489.66,153.81 L490.44,153.54 L491.23,153.68 L492.01,154.33 L492.79,152.56 L493.58,153.81 L494.36,152.86 L495.14,153.52 L495.92,154.31 L496.71,154.55 L497.49,152.92 L498.27,155.35 L499.06,153.62 L499.84,153.34 L500.62,153.58 L501.40,153.57 L502.19,153.81 L502.97,153.98 L503.75,153.49 L504.54,153.20 L505.32,153.96 L506.10,156.02 L506.88,153.24 L507.67,152.41 L508.45,152.87 L509.23,153.82 L510.01,155.57 L510.80,152.95 L511.58,154.64 L512.36,156.56 L513.15,153.19 L513.93,155.73 L514.71,155.59 L515.49,154.02 L516.28,152.59 L517.06,154.70 L517.84,153.78 L518.63,152.13 L519.41,151.29 L520.19,152.62 L520.97,153.69 L521.76,154.91 L522.54,153.87 L523.32,153.00 L524.11,153.34 L524.89,153.88 L525.67,153.74 L526.45,155.43 L527.24,154.40 L528.02,153.61 L528.80,153.97 L529.59,153.58 L530.37,153.44 L531.15,153.80 L531.93,153.72 L532.72,155.68 L533.50,156.16" stroke="url(#og)" stroke-width="1.6"/>
<path d="M63.80,-32.50 L64.58,-25.76 L65.37,-19.63 L66.15,-17.28 L66.93,-11.03 L67.71,-8.35 L68.50,-2.77 L69.28,-3.65 L70.06,1.58 L70.85,8.18 L71.63,13.58 L72.41,21.26 L73.19,31.14 L73.98,35.42 L74.76,40.51 L75.54,43.13 L76.33,44.91 L77.11,46.90 L77.89,51.87 L78.67,54.52 L79.46,53.31 L80.24,57.77 L81.02,56.06 L81.81,58.18 L82.59,58.47 L83.37,58.68 L84.15,61.49 L84.94,61.97 L85.72,64.46 L86.50,64.32 L87.28,63.05 L88.07,62.99 L88.85,64.25 L89.63,63.99 L90.42,67.11 L91.20,68.73 L91.98,69.11 L92.76,72.05 L93.55,73.53 L94.33,75.69 L95.11,73.60 L95.90,77.66 L96.68,77.33 L97.46,82.07 L98.24,80.23 L99.03,83.80 L99.81,81.44 L100.59,84.61 L101.38,83.17 L102.16,81.64 L102.94,85.24 L103.72,85.26 L104.51,86.74 L105.29,89.23 L106.07,85.99 L106.86,85.48 L107.64,87.10 L108.42,85.09 L109.20,87.28 L109.99,88.31 L110.77,87.81 L111.55,89.13 L112.34,85.80 L113.12,90.09 L113.90,87.21 L114.68,86.92 L115.47,90.63 L116.25,90.82 L117.03,88.86 L117.82,90.77 L118.60,90.33 L119.38,89.89 L120.16,91.77 L120.95,92.54 L121.73,93.89 L122.51,91.65 L123.30,93.47 L124.08,92.92 L124.86,93.84 L125.64,96.19 L126.43,93.38 L127.21,94.19 L127.99,94.19 L128.78,95.75 L129.56,94.45 L130.34,94.18 L131.12,93.97 L131.91,94.92 L132.69,93.82 L133.47,94.53 L134.25,94.83 L135.04,95.82 L135.82,94.10 L136.60,95.05 L137.39,97.19 L138.17,95.90 L138.95,95.84 L139.73,95.54 L140.52,97.24 L141.30,97.65 L142.08,98.17 L142.87,96.84 L143.65,97.55 L144.43,97.62 L145.21,97.95 L146.00,97.30 L146.78,98.59 L147.56,99.65 L148.35,97.80 L149.13,98.99 L149.91,98.40 L150.69,98.60 L151.48,97.98 L152.26,97.95 L153.04,99.01 L153.83,98.79 L154.61,99.87 L155.39,97.91 L156.17,98.84 L156.96,98.10 L157.74,99.29 L158.52,100.61 L159.31,98.46 L160.09,99.82 L160.87,100.02 L161.65,100.16 L162.44,99.85 L163.22,100.01 L164.00,101.37 L164.79,99.56 L165.57,100.22 L166.35,99.90 L167.13,98.65 L167.92,99.46 L168.70,100.53 L169.48,101.53 L170.27,100.33 L171.05,99.99 L171.83,100.20 L172.61,100.73 L173.40,100.48 L174.18,100.83 L174.96,100.24 L175.75,100.10 L176.53,100.03 L177.31,100.81 L178.09,100.36 L178.88,100.37 L179.66,101.09 L180.44,101.11 L181.22,100.16 L182.01,100.90 L182.79,100.48 L183.57,101.03 L184.36,100.89 L185.14,101.84 L185.92,101.27 L186.70,100.82 L187.49,100.50 L188.27,101.01 L189.05,101.40 L189.84,101.93 L190.62,102.45 L191.40,102.37 L192.18,102.04 L192.97,102.59 L193.75,101.82 L194.53,102.66 L195.32,103.09 L196.10,102.75 L196.88,102.80 L197.66,102.38 L198.45,101.13 L199.23,101.71 L200.01,101.80 L200.80,101.73 L201.58,101.85 L202.36,102.56 L203.14,101.73 L203.93,102.07 L204.71,102.29 L205.49,102.25 L206.28,103.13 L207.06,102.98 L207.84,102.80 L208.62,102.56 L209.41,102.95 L210.19,102.77 L210.97,102.16 L211.76,101.79 L212.54,101.93 L213.32,101.71 L214.10,102.43 L214.89,102.55 L215.67,102.47 L216.45,102.87 L217.24,103.09 L218.02,102.35 L218.80,103.02 L219.58,103.19 L220.37,102.51 L221.15,101.98 L221.93,102.68 L222.72,102.23 L223.50,102.70 L224.28,102.50 L225.06,102.45 L225.85,102.40 L226.63,102.01 L227.41,103.33 L228.19,102.35 L228.98,103.23 L229.76,102.87 L230.54,102.52 L231.33,102.75 L232.11,102.99 L232.89,103.58 L233.67,102.62 L234.46,102.83 L235.24,101.50 L236.02,102.40 L236.81,102.55 L237.59,103.38 L238.37,103.40 L239.15,103.71 L239.94,102.71 L240.72,102.84 L241.50,102.42 L242.29,102.92 L243.07,103.02 L243.85,102.54 L244.63,103.38 L245.42,103.73 L246.20,103.02 L246.98,103.51 L247.77,103.19 L248.55,102.63 L249.33,103.11 L250.11,102.52 L250.90,102.96 L251.68,102.15 L252.46,102.17 L253.25,102.84 L254.03,102.98 L254.81,103.49 L255.59,103.40 L256.38,103.12 L257.16,103.78 L257.94,102.85 L258.73,103.45 L259.51,103.37 L260.29,103.80 L261.07,102.61 L261.86,103.13 L262.64,102.94 L263.42,103.05 L264.21,102.38 L264.99,103.27 L265.77,102.63 L266.55,102.14 L267.34,103.19 L268.12,103.29 L268.90,103.12 L269.69,103.45 L270.47,103.07 L271.25,102.72 L272.03,102.89 L272.82,102.73 L273.60,102.85 L274.38,102.67 L275.17,102.81 L275.95,102.45 L276.73,102.62 L277.51,102.75 L278.30,103.14 L279.08,102.27 L279.86,102.31 L280.64,102.96 L281.43,103.54 L282.21,103.54 L282.99,103.06 L283.78,103.53 L284.56,103.23 L285.34,102.90 L286.12,102.59 L286.91,102.94 L287.69,103.04 L288.47,103.24 L289.26,102.69 L290.04,102.78 L290.82,102.95 L291.60,103.14 L292.39,102.86 L293.17,102.50 L293.95,102.97 L294.74,102.80 L295.52,103.18 L296.30,103.33 L297.08,103.20 L297.87,103.14 L298.65,103.45 L299.43,103.42 L300.22,102.94 L301.00,103.79 L301.78,103.51 L302.56,102.98 L303.35,103.19 L304.13,103.31 L304.91,103.42 L305.70,102.95 L306.48,102.84 L307.26,102.75 L308.04,103.03 L308.83,102.66 L309.61,103.00 L310.39,102.62 L311.18,102.85 L311.96,102.71 L312.74,102.61 L313.52,102.57 L314.31,103.10 L315.09,102.61 L315.87,103.04 L316.66,103.13 L317.44,102.82 L318.22,103.04 L319.00,102.72 L319.79,102.74 L320.57,102.92 L321.35,102.80 L322.13,103.06 L322.92,102.98 L323.70,103.32 L324.48,102.98 L325.27,103.19 L326.05,103.16 L326.83,103.21 L327.61,103.26 L328.40,103.74 L329.18,103.75 L329.96,103.46 L330.75,103.27 L331.53,103.27 L332.31,103.07 L333.09,102.85 L333.88,102.97 L334.66,103.14 L335.44,103.51 L336.23,103.59 L337.01,103.42 L337.79,103.06 L338.57,102.88 L339.36,102.86 L340.14,102.95 L340.92,102.87 L341.71,103.00 L342.49,102.94 L343.27,102.89 L344.05,103.06 L344.84,103.20 L345.62,102.95 L346.40,103.04 L347.19,103.11 L347.97,102.89 L348.75,102.02 L349.53,102.56 L350.32,102.55 L351.10,102.71 L351.88,103.33 L352.67,103.22 L353.45,102.91 L354.23,103.10 L355.01,103.05 L355.80,102.89 L356.58,102.88 L357.36,102.72 L358.15,103.12 L358.93,103.39 L359.71,103.37 L360.49,103.10 L361.28,103.05 L362.06,102.81 L362.84,103.35 L363.63,102.70 L364.41,102.59 L365.19,102.84 L365.97,103.13 L366.76,103.09 L367.54,102.73 L368.32,102.95 L369.11,102.57 L369.89,102.85 L370.67,102.55 L371.45,102.52 L372.24,103.33 L373.02,102.90 L373.80,103.10 L374.58,103.19 L375.37,102.96 L376.15,102.81 L376.93,102.45 L377.72,102.96 L378.50,102.45 L379.28,102.31 L380.06,102.68 L380.85,102.73 L381.63,102.91 L382.41,103.27 L383.20,103.07 L383.98,103.24 L384.76,103.26 L385.54,103.00 L386.33,103.28 L387.11,103.23 L387.89,102.82 L388.68,103.28 L389.46,103.18 L390.24,103.06 L391.02,103.26 L391.81,103.13 L392.59,103.39 L393.37,102.87 L394.16,102.73 L394.94,102.72 L395.72,102.94 L396.50,102.85 L397.29,102.92 L398.07,103.35 L398.85,103.08 L399.64,103.06 L400.42,103.23 L401.20,102.96 L401.98,102.94 L402.77,103.27 L403.55,103.07 L404.33,103.31 L405.12,103.08 L405.90,103.37 L406.68,103.00 L407.46,103.16 L408.25,103.14 L409.03,103.38 L409.81,103.55 L410.60,102.79 L411.38,103.09 L412.16,102.75 L412.94,102.96 L413.73,102.91 L414.51,102.64 L415.29,102.87 L416.07,102.58 L416.86,103.06 L417.64,102.57 L418.42,102.84 L419.21,102.93 L419.99,103.05 L420.77,103.09 L421.55,102.86 L422.34,103.53 L423.12,103.09 L423.90,103.14 L424.69,102.70 L425.47,102.95 L426.25,102.72 L427.03,102.84 L427.82,102.63 L428.60,102.60 L429.38,102.92 L430.17,102.83 L430.95,103.05 L431.73,102.69 L432.51,102.64 L433.30,103.04 L434.08,102.84 L434.86,103.44 L435.65,103.28 L436.43,103.11 L437.21,102.90 L437.99,102.82 L438.78,102.91 L439.56,102.98 L440.34,102.88 L441.13,103.12 L441.91,103.27 L442.69,103.23 L443.47,102.57 L444.26,103.33 L445.04,102.90 L445.82,102.52 L446.61,102.61 L447.39,102.79 L448.17,102.63 L448.95,102.52 L449.74,102.56 L450.52,103.03 L451.30,102.74 L452.09,102.79 L452.87,102.62 L453.65,102.61 L454.43,103.01 L455.22,103.31 L456.00,103.00 L456.78,102.65 L457.57,102.72 L458.35,102.71 L459.13,102.30 L459.91,102.86 L460.70,102.53 L461.48,102.80 L462.26,102.73 L463.05,102.84 L463.83,102.73 L464.61,103.23 L465.39,103.13 L466.18,103.21 L466.96,102.79 L467.74,103.03 L468.52,103.03 L469.31,103.40 L470.09,103.28 L470.87,102.96 L471.66,103.07 L472.44,102.89 L473.22,102.90 L474.00,103.04 L474.79,103.26 L475.57,102.86 L476.35,103.06 L477.14,103.01 L477.92,103.61 L478.70,103.58 L479.48,103.63 L480.27,103.33 L481.05,102.90 L481.83,102.91 L482.62,102.96 L483.40,102.89 L484.18,102.80 L484.96,103.06 L485.75,103.05 L486.53,103.16 L487.31,103.53 L488.10,103.15 L488.88,102.82 L489.66,103.12 L490.44,103.16 L491.23,103.32 L492.01,103.35 L492.79,103.10 L493.58,103.32 L494.36,103.42 L495.14,103.58 L495.92,103.25 L496.71,103.35 L497.49,103.20 L498.27,102.69 L499.06,102.68 L499.84,103.12 L500.62,102.65 L501.40,102.66 L502.19,102.83 L502.97,102.63 L503.75,103.16 L504.54,103.35 L505.32,103.64 L506.10,103.70 L506.88,103.35 L507.67,103.55 L508.45,103.32 L509.23,103.15 L510.01,102.90 L510.80,102.93 L511.58,102.69 L512.36,102.92 L513.15,103.05 L513.93,102.98 L514.71,102.98 L515.49,103.20 L516.28,103.06 L517.06,102.85 L517.84,103.22 L518.63,103.06 L519.41,102.76 L520.19,103.01 L520.97,103.06 L521.76,103.18 L522.54,103.03 L523.32,103.02 L524.11,103.04 L524.89,102.94 L525.67,102.73 L526.45,102.82 L527.24,103.20 L528.02,103.03 L528.80,103.03 L529.59,102.95 L530.37,103.10 L531.15,103.15 L531.93,103.10 L532.72,103.29 L533.50,103.03" stroke="#e01226" stroke-width="1.5"/>
</g>
<rect x="338" y="9.0" width="195.5" height="62.5" fill="#fff"/>
<text x="340.4" y="26.70" font-size="12.8" textLength="108.6" lengthAdjust="spacingAndGlyphs" font-family='"Liberation Serif", serif' fill="#1e1e1e" stroke="#1e1e1e" stroke-width="0.35">U-Net A training loss</text>
<line x1="487.5" y1="22.10" x2="520.3" y2="22.10" stroke="#ffa040" stroke-width="2.1"/>
<text x="340.4" y="40.95" font-size="12.8" textLength="86.0" lengthAdjust="spacingAndGlyphs" font-family='"Liberation Serif", serif' fill="#1e1e1e" stroke="#1e1e1e" stroke-width="0.35">U-Net A test loss</text>
<line x1="487.5" y1="36.35" x2="520.3" y2="36.35" stroke="#e01226" stroke-width="1.5"/>
<text x="340.4" y="55.20" font-size="12.8" textLength="108.6" lengthAdjust="spacingAndGlyphs" font-family='"Liberation Serif", serif' fill="#1e1e1e" stroke="#1e1e1e" stroke-width="0.35">U-Net B training loss</text>
<line x1="487.5" y1="50.60" x2="520.3" y2="50.60" stroke="#ff9e40" stroke-width="1.8" stroke-dasharray="4.5 5.1"/>
<text x="340.4" y="69.45" font-size="12.8" textLength="86.0" lengthAdjust="spacingAndGlyphs" font-family='"Liberation Serif", serif' fill="#1e1e1e" stroke="#1e1e1e" stroke-width="0.35">U-Net B test loss</text>
<line x1="487.5" y1="64.85" x2="520.3" y2="64.85" stroke="#e01226" stroke-width="1.8" stroke-dasharray="4.5 5.1"/>
<g stroke="#222" stroke-width="1.2"><line x1="63.8" y1="180.94" x2="69.8" y2="180.94"/><line x1="533.5" y1="180.94" x2="527.5" y2="180.94"/><line x1="63.8" y1="156.38" x2="69.8" y2="156.38"/><line x1="533.5" y1="156.38" x2="527.5" y2="156.38"/><line x1="63.8" y1="131.81" x2="69.8" y2="131.81"/><line x1="533.5" y1="131.81" x2="527.5" y2="131.81"/><line x1="63.8" y1="107.25" x2="69.8" y2="107.25"/><line x1="533.5" y1="107.25" x2="527.5" y2="107.25"/><line x1="63.8" y1="82.69" x2="69.8" y2="82.69"/><line x1="533.5" y1="82.69" x2="527.5" y2="82.69"/><line x1="63.8" y1="58.12" x2="69.8" y2="58.12"/><line x1="533.5" y1="58.12" x2="527.5" y2="58.12"/><line x1="63.8" y1="33.56" x2="69.8" y2="33.56"/><line x1="533.5" y1="33.56" x2="527.5" y2="33.56"/><line x1="142.08" y1="205.5" x2="142.08" y2="199.5"/><line x1="142.08" y1="9.0" x2="142.08" y2="15.0"/><line x1="220.37" y1="205.5" x2="220.37" y2="199.5"/><line x1="220.37" y1="9.0" x2="220.37" y2="15.0"/><line x1="298.65" y1="205.5" x2="298.65" y2="199.5"/><line x1="298.65" y1="9.0" x2="298.65" y2="15.0"/><line x1="376.93" y1="205.5" x2="376.93" y2="199.5"/><line x1="376.93" y1="9.0" x2="376.93" y2="15.0"/><line x1="455.22" y1="205.5" x2="455.22" y2="199.5"/><line x1="455.22" y1="9.0" x2="455.22" y2="15.0"/></g>
<rect x="63.8" y="9.0" width="469.7" height="196.5" fill="none" stroke="#222" stroke-width="1.2"/>
<text x="57.1" y="210.40" text-anchor="end" font-size="13" font-family='"Liberation Serif", serif' fill="#1e1e1e" stroke="#1e1e1e" stroke-width="0.35">0</text>
<text x="57.1" y="185.84" text-anchor="end" font-size="13" font-family='"Liberation Serif", serif' fill="#1e1e1e" stroke="#1e1e1e" stroke-width="0.35">0.05</text>
<text x="57.1" y="161.28" text-anchor="end" font-size="13" font-family='"Liberation Serif", serif' fill="#1e1e1e" stroke="#1e1e1e" stroke-width="0.35">0.1</text>
<text x="57.1" y="136.71" text-anchor="end" font-size="13" font-family='"Liberation Serif", serif' fill="#1e1e1e" stroke="#1e1e1e" stroke-width="0.35">0.15</text>
<text x="57.1" y="112.15" text-anchor="end" font-size="13" font-family='"Liberation Serif", serif' fill="#1e1e1e" stroke="#1e1e1e" stroke-width="0.35">0.2</text>
<text x="57.1" y="87.59" text-anchor="end" font-size="13" font-family='"Liberation Serif", serif' fill="#1e1e1e" stroke="#1e1e1e" stroke-width="0.35">0.25</text>
<text x="57.1" y="63.02" text-anchor="end" font-size="13" font-family='"Liberation Serif", serif' fill="#1e1e1e" stroke="#1e1e1e" stroke-width="0.35">0.3</text>
<text x="57.1" y="38.46" text-anchor="end" font-size="13" font-family='"Liberation Serif", serif' fill="#1e1e1e" stroke="#1e1e1e" stroke-width="0.35">0.35</text>
<text x="57.1" y="13.90" text-anchor="end" font-size="13" font-family='"Liberation Serif", serif' fill="#1e1e1e" stroke="#1e1e1e" stroke-width="0.35">0.4</text>
<text x="65.80" y="225.2" text-anchor="middle" font-size="13" font-family='"Liberation Serif", serif' fill="#1e1e1e" stroke="#1e1e1e" stroke-width="0.35">0</text>
<text x="144.08" y="225.2" text-anchor="middle" font-size="13" font-family='"Liberation Serif", serif' fill="#1e1e1e" stroke="#1e1e1e" stroke-width="0.35">100</text>
<text x="222.37" y="225.2" text-anchor="middle" font-size="13" font-family='"Liberation Serif", serif' fill="#1e1e1e" stroke="#1e1e1e" stroke-width="0.35">200</text>
<text x="300.65" y="225.2" text-anchor="middle" font-size="13" font-family='"Liberation Serif", serif' fill="#1e1e1e" stroke="#1e1e1e" stroke-width="0.35">300</text>
<text x="378.93" y="225.2" text-anchor="middle" font-size="13" font-family='"Liberation Serif", serif' fill="#1e1e1e" stroke="#1e1e1e" stroke-width="0.35">400</text>
<text x="457.22" y="225.2" text-anchor="middle" font-size="13" font-family='"Liberation Serif", serif' fill="#1e1e1e" stroke="#1e1e1e" stroke-width="0.35">500</text>
<text x="535.50" y="225.2" text-anchor="middle" font-size="13" font-family='"Liberation Serif", serif' fill="#1e1e1e" stroke="#1e1e1e" stroke-width="0.35">600</text>
<text x="298.5" y="246.0" text-anchor="middle" font-size="12.5" font-family='"Liberation Serif", serif' fill="#1e1e1e" stroke="#1e1e1e" stroke-width="0.35">Epoch</text>
<text transform="translate(14.6,107.0) rotate(-90)" text-anchor="middle" font-size="12.6" textLength="66" lengthAdjust="spacingAndGlyphs" font-family='"Liberation Serif", serif' fill="#1e1e1e" stroke="#1e1e1e" stroke-width="0.35">Metric Value</text>
</svg></body></html>
